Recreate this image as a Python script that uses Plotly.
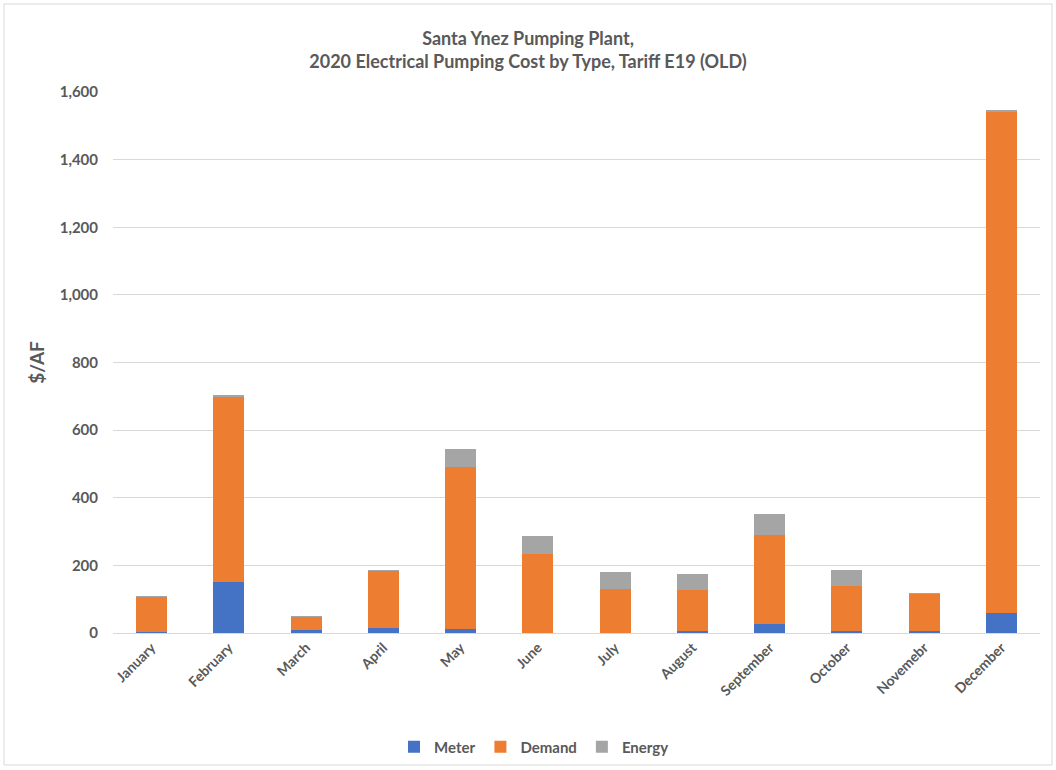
import plotly.graph_objects as go

months = ["January", "February", "March", "April", "May", "June", "July",
          "August", "September", "October", "Novemebr", "December"]
meter = [4, 152, 8, 15, 11, 1, 1, 5, 27, 5, 5, 59]
demand = [103, 545, 40, 169, 479, 233, 130, 121, 263, 135, 112, 1482]
energy = [2, 6, 2, 2, 54, 52, 49, 49, 61, 46, 1, 6]

FONT = "Lato, 'Open Sans', sans-serif"
GRAY = "#595959"

fig = go.Figure()
for name, vals, col in [("Meter", meter, "#4472C4"),
                        ("Demand", demand, "#ED7D31"),
                        ("Energy", energy, "#A5A5A5")]:
    fig.add_trace(go.Bar(name=name, x=months, y=vals, marker_color=col,
                         marker_line_width=0))

W, H = 1056, 770
L, R, T, B = 113, 16, 92, 137
pw, ph = W - L - R, H - T - B

fig.update_layout(
    width=W, height=H,
    barmode="stack", bargap=0.6,
    plot_bgcolor="white", paper_bgcolor="white",
    margin=dict(l=L, r=R, t=T, b=B, autoexpand=False),
    font=dict(family=FONT, color=GRAY),
    title=dict(text="<b>Santa Ynez Pumping Plant,<br>2020 Electrical Pumping Cost by Type, Tariff E19 (OLD)</b>",
               x=0.5, xref="container", xanchor="center", y=1 - 45 / H, yanchor="middle",
               font=dict(size=18, color=GRAY, family=FONT)),
    xaxis=dict(tickangle=-45, tickfont=dict(size=14, color=GRAY, family=FONT, weight="bold"),
               showline=True, linecolor="#D9D9D9", linewidth=1, ticks=""),
    yaxis=dict(range=[0, 1600], dtick=200, tickformat=",d",
               gridcolor="#D9D9D9", gridwidth=1, zeroline=False,
               tickfont=dict(size=15, color=GRAY, family=FONT, weight="bold"),
               ticklabelstandoff=14,
               title=dict(text="<b>$/AF</b>", font=dict(size=19, color=GRAY, family=FONT),
                          standoff=10)),
    legend=dict(orientation="h", x=(534 - L) / pw, xanchor="center", y=-(747 - T - ph) / ph,
                yanchor="middle", font=dict(size=15, color=GRAY, family=FONT, weight="bold"),
                traceorder="normal", itemwidth=30),
)
fig.add_shape(type="rect", xref="paper", yref="paper",
              x0=(4 - L) / pw, x1=(1052 - L) / pw,
              y0=-(765 - T - ph) / ph, y1=1 + (T - 4) / ph,
              line=dict(color="#D9D9D9", width=1), fillcolor="rgba(0,0,0,0)", layer="below")

fig.write_html("out.html")
